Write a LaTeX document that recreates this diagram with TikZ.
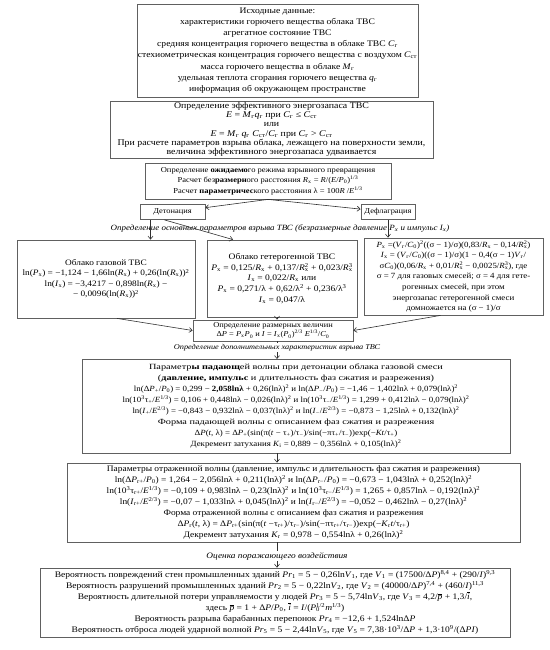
\documentclass[tikz,border=0pt]{standalone}
\usepackage{fontspec}
\setmainfont{Liberation Serif}[FakeStretch=1.12]
\usetikzlibrary{arrows.meta}
\definecolor{BoxGray}{HTML}{606060}
\definecolor{LineGray}{HTML}{303030}

% formula helpers
\newcommand{\iv}[1]{\textit{#1}}
\newcommand{\lo}[1]{\textsubscript{#1}}
\newcommand{\hi}[1]{\textsuperscript{#1}}
\newcommand{\sx}[2]{\rlap{\textsubscript{#1}}\textsuperscript{#2}}
\newcommand{\barred}[1]{$\overline{\hbox{\textit{#1}}}$}
\newcommand{\setfs}[2]{\fontsize{#1}{#2}\selectfont}
\newcommand{\wideline}[1]{\scalebox{1.16}[1]{#1}}

\tikzset{
    % Box styles
    databox/.style={
        rectangle,
        draw=BoxGray,
        fill=white,
        line width=0.8pt,
        inner sep=0.5pt,
        align=center,
        font=\setfs{8.5}{11}
    },
    modebox/.style={
        databox,
        inner sep=2pt,
        font=\setfs{7.5}{9}
    },
    % Labels between the boxes
    steplabel/.style={
        inner sep=1pt,
        font=\setfs{8}{10}\itshape
    },
    % Arrow styles
    arrow/.style={
        -{Straight Barb[length=3pt,width=5pt]},
        line width=0.6pt,
        draw=LineGray
    },
    plainline/.style={
        line width=0.6pt,
        draw=LineGray
    }
}

\begin{document}
\begin{tikzpicture}[x=1pt, y=-1pt]
    \useasboundingbox (0,0) rectangle (549,650);

    % Input data
    \node[databox, font=\setfs{8.55}{11.2}, minimum width=281, minimum height=93] (input) at (277.5,50.5) {Исходные данные:\\
        характеристики горючего вещества облака ТВС\\
        агрегатное состояние ТВС\\
        средняя концентрация горючего вещества в облаке ТВС \iv{C}\lo{г}\\
        стехиометрическая концентрация горючего вещества с воздухом \iv{C}\lo{ст}\\
        масса горючего вещества в облаке \iv{M}\lo{г}\\
        удельная теплота сгорания горючего вещества \iv{q}\lo{г}\\
        информация об окружающем пространстве};

    % Effective energy
    \node[databox, font=\setfs{8.8}{9.3}, minimum width=323, minimum height=57] (energy) at (271.5,129.5) {Определение эффективного энергозапаса ТВС\\
        \iv{E} = \iv{M}\lo{г}\iv{q}\lo{г} при \iv{C}\lo{г} ≤ \iv{C}\lo{ст}\\
        или\\
        \iv{E} = \iv{M}\lo{г} \iv{q}\lo{г} \iv{C}\lo{ст}/\iv{C}\lo{г} при \iv{C}\lo{г} > \iv{C}\lo{ст}\\
        При расчете параметров взрыва облака, лежащего на поверхности земли,\\
        величина эффективного энергозапаса удваивается};

    % Explosion mode
    \node[databox, font=\setfs{7.6}{10.5}, minimum width=246, minimum height=36] (mode) at (268,181) {Определение \textbf{ожидаемо}го режима взрывного превращения\\
        Расчет без\textbf{размерн}ого расстояния \iv{R}\lo{x} = \iv{R}/(\iv{E}/\iv{P}\lo{0})\hi{1/3}\\
        Расчет \textbf{параметричес}кого расстояния λ = 100\iv{R} /\iv{E}\hi{1/3}};

    \node[modebox, minimum width=65, minimum height=15] (det) at (172.5,212) {Детонация};
    \node[modebox, minimum width=54, minimum height=15] (defl) at (388,212) {Дефлаграция};

    \draw[arrow] (mode.south) -- (det);
    \draw[arrow] (mode.south) -- (defl);

    \node[steplabel] (basiclbl) at (280,228.5) {Определение основных параметров взрыва ТВС (безразмерные давление \iv{P}\lo{x} и импульс \iv{I}\lo{x})};

    % Dimensionless parameters
    \node[databox, font=\setfs{8.3}{10.5}, minimum width=178, minimum height=78] (gas) at (106,279) {Облако газовой ТВС\\
        ln(\iv{P}\lo{x}) = −1,124 − 1,66ln(\iv{R}\lo{x}) + 0,26(ln(\iv{R}\lo{x}))\hi{2}\\
        ln(\iv{I}\lo{x}) = −3,4217 − 0,898ln(\iv{R}\lo{x}) −\\
        − 0,0096(ln(\iv{R}\lo{x}))\hi{2}};
    \node[databox, font=\setfs{8.5}{10.8}, minimum width=150, minimum height=77] (hetero) at (282,278.5) {Облако гетерогенной ТВС\\
        \iv{P}\lo{x} = 0,125/\iv{R}\lo{x} + 0,137/\iv{R}\sx{x}{2} + 0,023/\iv{R}\sx{x}{3}\\
        \iv{I}\lo{x} = 0,022/\iv{R}\lo{x} или\\
        \iv{P}\lo{x} = 0,271/λ + 0,62/λ\hi{2} + 0,236/λ\hi{3}\\
        \iv{I}\lo{x} = 0,047/λ};
    \node[databox, font=\setfs{7.9}{10.6}, minimum width=179, minimum height=77] (defgas) at (453.5,276.5) {\iv{P}\lo{x} =(\iv{V}\lo{г}/\iv{C}\lo{0})\hi{2}((σ − 1)/σ)(0,83/\iv{R}\lo{x} − 0,14/\iv{R}\sx{x}{2})\\
        \iv{I}\lo{x} = (\iv{V}\lo{г}/\iv{C}\lo{0})((σ − 1)/σ)(1 − 0,4(σ − 1)\iv{V}\lo{г}/\\
        σ\iv{C}\lo{0})(0,06/\iv{R}\lo{x} + 0,01/\iv{R}\sx{x}{2} − 0,0025/\iv{R}\sx{x}{3}), где\\
        σ = 7 для газовых смесей; σ = 4 для гете-\\
        рогенных смесей, при этом\\
        энергозапас гетерогенной смеси\\
        домножается на (σ − 1)/σ};

    \draw[arrow] ([xshift=-22pt]det.south) -- ([xshift=-22pt]det.south |- gas.north);
    \draw[arrow] ([xshift=-8pt]det.south) -- ([xshift=-49pt]hetero.north);
    \draw[arrow] (defl.south) -- (defl.south |- defgas.north);

    % Dimensional values
    \node[databox, font=\setfs{7.5}{9.6}, minimum width=160, minimum height=21] (dim) at (273,330.5) {Определение размерных величин\\
        Δ\iv{P} = \iv{P}\lo{x}\iv{P}\lo{0} и \iv{I} = \iv{I}\lo{x}(\iv{P}\lo{0})\hi{2/3} \iv{E}\hi{1/3}/\iv{C}\lo{0}};

    \draw[arrow] ([xshift=11pt]gas.south) -- (dim.west);
    \draw[arrow] ([xshift=-5pt]hetero.south) -- ([xshift=-5pt]hetero.south |- dim.north);
    \draw[arrow] ([xshift=-13pt]defgas.south) -- (dim.east);

    \node[steplabel, font=\setfs{7.4}{9}\itshape] (addlbl) at (277,347.5) {Определение дополнительных характеристик взрыва ТВС};
    \draw[plainline] (addlbl.north |- dim.south) -- (addlbl.north);
    \draw[arrow] (addlbl.south) -- (addlbl.south |- 0,359);

    % Incident wave
    \node[databox, font=\setfs{7.9}{11}, minimum width=428, minimum height=94] (inc) at (296,406) {\wideline{Параметр\textbf{ы падающ}ей волны при детонации облака газовой смеси}\\
        \wideline{(\textbf{давление, импульс} и длительность фаз сжатия и разрежения)}\\
        ln(Δ\iv{P}\lo{+}/\iv{P}\lo{0}) = 0,299 − \textbf{2,058lnλ} + 0,26(lnλ)\hi{2} и ln(Δ\iv{P}\lo{−}/\iv{P}\lo{0}) = −1,46 − 1,402lnλ + 0,079(lnλ)\hi{2}\\
        ln(10\hi{3}τ\lo{+}/\iv{E}\hi{1/3}) = 0,106 + 0,448lnλ − 0,026(lnλ)\hi{2} и ln(10\hi{3}τ\lo{−}/\iv{E}\hi{1/3}) = 1,299 + 0,412lnλ − 0,079(lnλ)\hi{2}\\
        ln(\iv{I}\lo{+}/\iv{E}\hi{2/3}) = −0,843 − 0,932lnλ − 0,037(lnλ)\hi{2} и ln(\iv{I}\lo{−}/\iv{E}\hi{2/3}) = −0,873 − 1,25lnλ + 0,132(lnλ)\hi{2}\\
        \wideline{Форма падающей волны с описанием фаз сжатия и разрежения}\\
        Δ\iv{P}(\iv{t}, λ) = Δ\iv{P}\lo{+}(sin(π(\iv{t} − τ\lo{+})/τ\lo{−})/sin(−πτ\lo{+}/τ\lo{−}))exp(−\iv{Kt}/τ\lo{+})\\
        Декремент затухания \iv{K}\lo{i} = 0,889 − 0,356lnλ + 0,105(lnλ)\hi{2}};

    % Reflected wave
    \node[databox, font=\setfs{8.4}{11}, minimum width=453, minimum height=79] (refl) at (293.5,502.5) {Параметры отраженной волны (давление, импульс и длительность фаз сжатия и разрежения)\\
        ln(Δ\iv{P}\lo{r+}/\iv{P}\lo{0}) = 1,264 − 2,056lnλ + 0,211(lnλ)\hi{2} и ln(Δ\iv{P}\lo{r−}/\iv{P}\lo{0}) = −0,673 − 1,043lnλ + 0,252(lnλ)\hi{2}\\
        ln(10\hi{3}τ\lo{r+}/\iv{E}\hi{1/3}) = −0,109 + 0,983lnλ − 0,23(lnλ)\hi{2} и ln(10\hi{3}τ\lo{r−}/\iv{E}\hi{1/3}) = 1,265 + 0,857lnλ − 0,192(lnλ)\hi{2}\\
        ln(\iv{I}\lo{r+}/\iv{E}\hi{2/3}) = −0,07 − 1,033lnλ + 0,045(lnλ)\hi{2} и ln(\iv{I}\lo{r−}/\iv{E}\hi{2/3}) = −0,052 − 0,462lnλ − 0,27(lnλ)\hi{2}\\
        Форма отраженной волны с описанием фаз сжатия и разрежения\\
        Δ\iv{P}\lo{r}(\iv{t}, λ) = Δ\iv{P}\lo{r+}(sin(π(\iv{t} −τ\lo{r+})/τ\lo{r−})/sin(−πτ\lo{r+}/τ\lo{r−}))exp(−\iv{K}\lo{r}\iv{t}/τ\lo{r+})\\
        Декремент затухания \iv{K}\lo{r} = 0,978 − 0,554lnλ + 0,26(lnλ)\hi{2}};

    \draw[arrow] (inc.south -| addlbl) -- (addlbl |- refl.north);

    \node[steplabel, font=\setfs{8.3}{10}\itshape] (dmglbl) at (277,556) {Оценка поражающего воздействия};
    \draw[plainline] (dmglbl.north |- refl.south) -- (dmglbl.north);

    % Damage probabilities
    \node[databox, font=\setfs{8.5}{11.1}, minimum width=470, minimum height=69] (prob) at (275,602.5) {Вероятность повреждений стен промышленных зданий \iv{Pr}\lo{1} = 5 − 0,26ln\iv{V}\lo{1}, где \iv{V}\lo{1} = (17500/Δ\iv{P})\hi{8,4} + (290/\iv{I})\hi{9,3}\\
        Вероятность разрушений промышленных зданий \iv{Pr}\lo{2} = 5 − 0,22ln\iv{V}\lo{2}, где \iv{V}\lo{2} = (40000/Δ\iv{P})\hi{7,4} + (460/\iv{I})\hi{11,3}\\
        Вероятность длительной потери управляемости у людей \iv{Pr}\lo{3} = 5 − 5,74ln\iv{V}\lo{3}, где \iv{V}\lo{3} = 4,2/\barred{p} + 1,3/\barred{i},\\
        здесь \barred{p} = 1 + Δ\iv{P}/\iv{P}\lo{0}, \barred{i} = \iv{I}/(\iv{P}\sx{0}{1/2}\iv{m}\hi{1/3})\\
        Вероятность разрыва барабанных перепонок \iv{Pr}\lo{4} = −12,6 + 1,524lnΔ\iv{P}\\
        Вероятность отброса людей ударной волной \iv{Pr}\lo{5} = 5 − 2,44ln\iv{V}\lo{5}, где \iv{V}\lo{5} = 7,38·10\hi{3}/Δ\iv{P} + 1,3·10\hi{9}/(Δ\iv{PI})};

    \draw[arrow] (dmglbl.south) -- (dmglbl.south |- prob.north);
\end{tikzpicture}
\end{document}
